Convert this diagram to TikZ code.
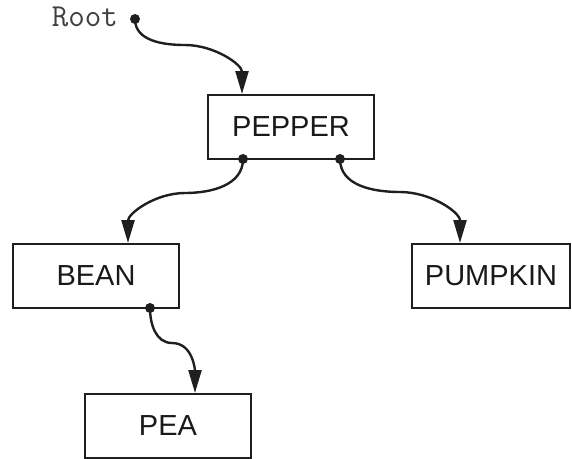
\documentclass[tikz,border=0pt]{standalone}
\usepackage{fontspec}
\setmainfont{Liberation Sans}
\usetikzlibrary{arrows.meta}
\begin{document}
\begin{tikzpicture}[x=1pt,y=-1pt,
  box/.style={draw=black!88, line width=1.8pt, minimum width=166pt, minimum height=64pt, inner sep=0pt, font=\fontsize{29}{34}\selectfont, text=black!90},
  link/.style={line width=2.4pt, draw=black!88, -{Triangle[length=23pt,width=13pt]}},
  pdot/.style={circle, fill=black!88, inner sep=0pt, minimum size=10pt}]
\useasboundingbox (0,0) rectangle (572,458);
% boxes
\node[box] (pepper) at (291,127) {PEPPER};
\node[box] (bean) at (96,276) {BEAN};
\node[box] (pea) at (168,426) {PEA};
\node[box, minimum width=158pt] (pumpkin) at (491,276) {PUMPKIN};
% root label
\node[anchor=base east, inner sep=0pt, font=\ttfamily\fontsize{32}{36}\selectfont, text=black!75] (rootlabel) at (118,26) {Root};
% dots
\node[pdot] (rootdot) at (135,19) {};
\node[pdot] (pl) at (243,159) {};
\node[pdot] (pr) at (340,159) {};
\node[pdot] (bl) at (150,308) {};
% entry points
\coordinate (pepperin) at (242,94);
\coordinate (beanin) at (128,243);
\coordinate (pumpkinin) at (460,243);
\coordinate (peain) at (195,393);
% connectors
\draw[link] (rootdot.center) to[out=-90,in=180] (185,45) to[out=0,in=90] (pepperin);
\draw[link] (pl.center) to[out=-90,in=0] (185,193) to[out=180,in=90] (beanin);
\draw[link] (pr.center) to[out=-90,in=180] (400,192) to[out=0,in=90] (pumpkinin);
\draw[link] (bl.center) to[out=-90,in=180] (172,343) to[out=0,in=90] (peain);
\end{tikzpicture}
\end{document}
